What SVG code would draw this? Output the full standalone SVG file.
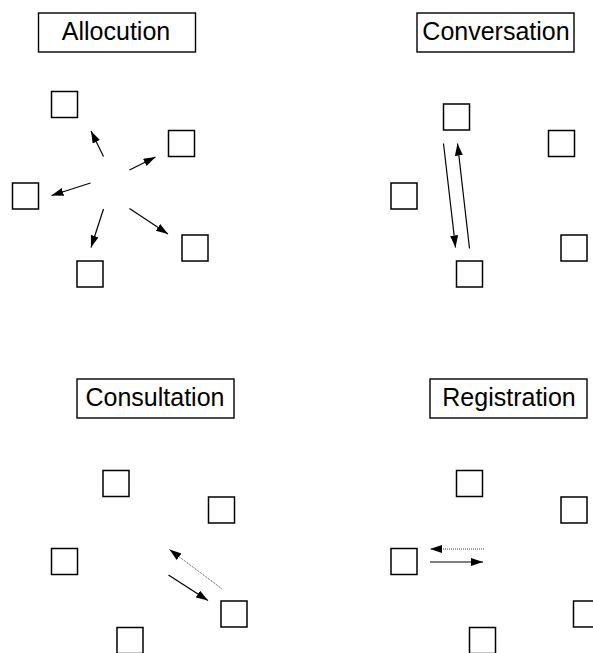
<svg xmlns="http://www.w3.org/2000/svg" width="593" height="653" viewBox="0 0 593 653">
  <style>
    .title { fill: #fff; stroke: #000; stroke-width: 1.4; }
    .label { font-family: "Liberation Sans", Arial, sans-serif; font-size: 25px; fill: #000; text-anchor: middle; }
    .node { fill: #fff; stroke: #000; stroke-width: 1.5; }
    .msg { stroke: #000; stroke-width: 1.2; fill: none; marker-end: url(#head); }
    .reply { stroke: #444; stroke-width: 1; stroke-dasharray: 1 1; fill: none; marker-end: url(#head); }
  </style>
  <defs>
    <marker id="head" markerUnits="userSpaceOnUse" markerWidth="13" markerHeight="9" refX="12" refY="4" orient="auto">
      <path d="M0,0 L12,4 L0,8 z" fill="#000"/>
    </marker>
  </defs>
  <rect width="593" height="653" fill="#fff"/>

  <!-- Allocution -->
  <g id="allocution-title">
    <rect class="title" x="38.5" y="13" width="157" height="39"/>
    <text class="label" x="116" y="39.5">Allocution</text>
  </g>
  <g id="allocution-n1"><rect class="node" x="51.5" y="91.5" width="26" height="26"/></g>
  <g id="allocution-n2"><rect class="node" x="168.5" y="130.5" width="26" height="26"/></g>
  <g id="allocution-n3"><rect class="node" x="12.5" y="183" width="26" height="26"/></g>
  <g id="allocution-n4"><rect class="node" x="182" y="235" width="26" height="26"/></g>
  <g id="allocution-n5"><rect class="node" x="77" y="261" width="26" height="26"/></g>

  <!-- Conversation -->
  <g id="conversation-title">
    <rect class="title" x="417" y="13" width="157" height="39"/>
    <text class="label" x="496" y="39.5">Conversation</text>
  </g>
  <g id="conversation-n1"><rect class="node" x="443.5" y="104" width="26" height="26"/></g>
  <g id="conversation-n2"><rect class="node" x="548.5" y="130.5" width="26" height="26"/></g>
  <g id="conversation-n3"><rect class="node" x="391" y="183" width="26" height="26"/></g>
  <g id="conversation-n4"><rect class="node" x="561" y="235" width="26" height="26"/></g>
  <g id="conversation-n5"><rect class="node" x="456.5" y="261" width="26" height="26"/></g>

  <!-- Consultation -->
  <g id="consultation-title">
    <rect class="title" x="77" y="379" width="157" height="39"/>
    <text class="label" x="155" y="405.5">Consultation</text>
  </g>
  <g id="consultation-n1"><rect class="node" x="103" y="470.5" width="26" height="26"/></g>
  <g id="consultation-n2"><rect class="node" x="208.5" y="497" width="26" height="26"/></g>
  <g id="consultation-n3"><rect class="node" x="51.5" y="548.5" width="26" height="26"/></g>
  <g id="consultation-n4"><rect class="node" x="221" y="601" width="26" height="26"/></g>
  <g id="consultation-n5"><rect class="node" x="117" y="627.5" width="26" height="26"/></g>

  <!-- Registration -->
  <g id="registration-title">
    <rect class="title" x="430" y="379" width="157" height="39"/>
    <text class="label" x="509" y="405.5">Registration</text>
  </g>
  <g id="registration-n1"><rect class="node" x="456.5" y="470.5" width="26" height="26"/></g>
  <g id="registration-n2"><rect class="node" x="561" y="497" width="26" height="26"/></g>
  <g id="registration-n3"><rect class="node" x="391" y="548.5" width="26" height="26"/></g>
  <g id="registration-n4"><rect class="node" x="573.5" y="601" width="26" height="26"/></g>
  <g id="registration-n5"><rect class="node" x="469.5" y="627.5" width="26" height="26"/></g>

  <g id="connectors">
    <!-- Allocution: one sender to all -->
    <line class="msg" x1="103.5" y1="156.5" x2="91" y2="131"/>
    <line class="msg" x1="129.5" y1="170" x2="155.5" y2="157"/>
    <line class="msg" x1="90.5" y1="183" x2="51.5" y2="195.5"/>
    <line class="msg" x1="103.5" y1="209" x2="91" y2="247.5"/>
    <line class="msg" x1="129.5" y1="208.5" x2="168" y2="234"/>
    <!-- Conversation: exchange between two -->
    <line class="msg" x1="443.5" y1="143.5" x2="455.5" y2="247.5"/>
    <line class="msg" x1="469.5" y1="248.5" x2="457.5" y2="143.5"/>
    <!-- Consultation: request and reply -->
    <line class="reply" x1="221.5" y1="588.5" x2="169.5" y2="549.5"/>
    <line class="msg" x1="168.5" y1="575" x2="208" y2="600.5"/>
    <!-- Registration: report and acknowledgement -->
    <line class="reply" x1="484" y1="549" x2="430" y2="549"/>
    <line class="msg" x1="430" y1="562" x2="483" y2="562"/>
  </g>
</svg>
